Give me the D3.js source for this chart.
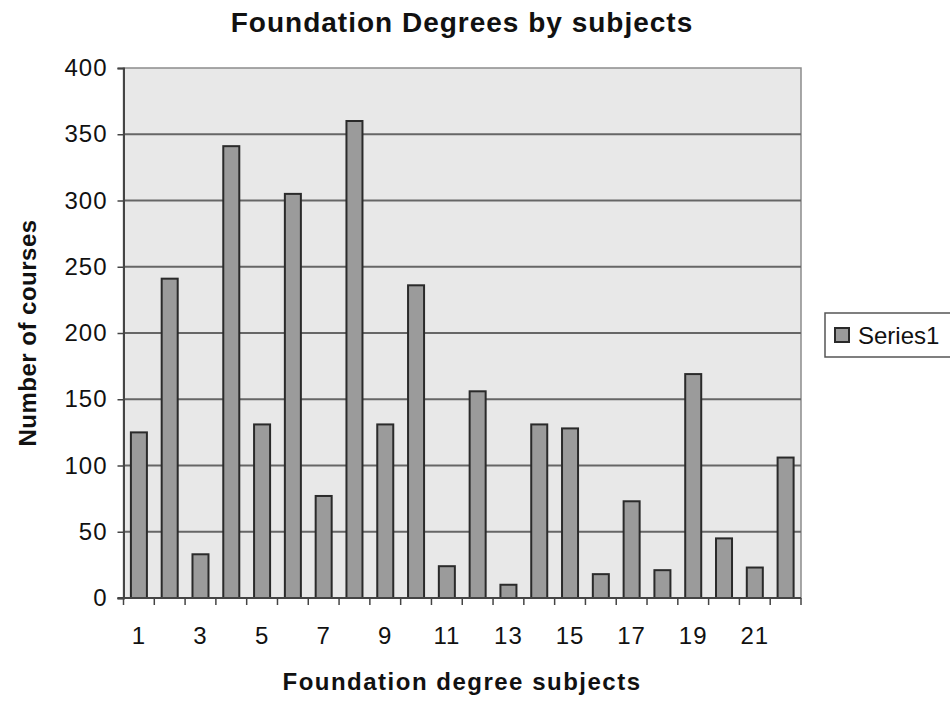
<!DOCTYPE html>
<html>
<head>
<meta charset="utf-8">
<script src="https://cdn.jsdelivr.net/npm/d3@7"></script>
<style>
  body { margin: 0; background: #fff; }
  text { font-family: "Liberation Sans", Arial, sans-serif; fill: #111; }
</style>
</head>
<body>
<div id="chart-area"></div>
<script>
// DATA
const subjects = d3.range(1, 23)
const courses = [125, 241, 33, 341, 131, 305, 77, 360, 131, 236, 24, 156,
                 10, 131, 128, 18, 73, 21, 169, 45, 23, 106]
const yTicks = [0, 50, 100, 150, 200, 250, 300, 350, 400]
const seriesName = "Series1"

const W = 950, H = 702
const plotL = 123.5, plotR = 801, plotT = 68, plotB = 598

const svg = d3.select("#chart-area").append("svg").attr("width", W).attr("height", H)

// X-Axis => Band Scale
const x = d3.scaleBand().domain(subjects).range([plotL, plotR])
            .paddingInner(0.48).paddingOuter(0.24)
const xEdge = d3.scaleLinear().domain([0, subjects.length]).range([plotL, plotR])

// Y-Axis => Linear Scale
const y = d3.scaleLinear().domain([0, 400]).range([plotB, plotT])

// plot background
svg.append("rect")
   .attr("x", plotL).attr("y", plotT)
   .attr("width", plotR - plotL).attr("height", plotB - plotT)
   .attr("fill", "#e8e8e8").attr("stroke", "#8c8c8c").attr("stroke-width", 1.5)

// gridlines
svg.selectAll(".grid").data(yTicks.filter(d => d > 0 && d < 400)).enter()
   .append("line")
   .attr("x1", plotL).attr("x2", plotR)
   .attr("y1", d => y(d)).attr("y2", d => y(d))
   .attr("stroke", "#666").attr("stroke-width", 2)

// bars
svg.selectAll(".bar").data(courses).enter()
   .append("rect")
   .attr("x", (d, i) => x(subjects[i]))
   .attr("y", d => y(d))
   .attr("width", x.bandwidth())
   .attr("height", d => y(0) - y(d))
   .attr("fill", "#9b9b9b").attr("stroke", "#2a2a2a").attr("stroke-width", 2)

// y axis
const yAxis = d3.axisLeft(y).tickValues(yTicks).tickSize(6).tickPadding(10)
const gy = svg.append("g").attr("transform", `translate(${plotL},0)`).call(yAxis)
gy.select(".domain").attr("stroke", "#444").attr("stroke-width", 2)
gy.selectAll(".tick line").attr("stroke", "#444").attr("stroke-width", 1.5)
gy.selectAll(".tick text").style("font-size", "24px").style("letter-spacing", "1px")
  .attr("fill", "#111")

// x axis: ticks at category edges, labels on odd categories
const gx = svg.append("g").attr("transform", `translate(0,${plotB})`)
gx.append("line").attr("x1", plotL - 6).attr("x2", plotR)
  .attr("stroke", "#444").attr("stroke-width", 2)
gx.selectAll(".xtick").data(d3.range(0, subjects.length + 1)).enter()
  .append("line")
  .attr("x1", d => xEdge(d)).attr("x2", d => xEdge(d))
  .attr("y1", 0).attr("y2", 7)
  .attr("stroke", "#444").attr("stroke-width", 1.5)
gx.selectAll(".xlab").data(subjects.filter(d => d % 2 === 1)).enter()
  .append("text")
  .attr("x", d => x(d) + x.bandwidth() / 2)
  .attr("y", 46)
  .attr("text-anchor", "middle")
  .style("font-size", "24px").style("letter-spacing", "1px")
  .text(d => d)

// titles
svg.append("text").attr("x", 462).attr("y", 32).attr("text-anchor", "middle")
   .style("font-size", "28px").style("font-weight", "bold").style("letter-spacing", "1px")
   .text("Foundation Degrees by subjects")
svg.append("text").attr("x", 462).attr("y", 690).attr("text-anchor", "middle")
   .style("font-size", "24px").style("font-weight", "bold").style("letter-spacing", "1.5px")
   .text("Foundation degree subjects")
svg.append("text")
   .attr("transform", "translate(36,333) rotate(-90)")
   .attr("text-anchor", "middle")
   .style("font-size", "24px").style("font-weight", "bold").style("letter-spacing", "0.5px")
   .text("Number of courses")

// legend
const lg = svg.append("g").attr("transform", "translate(825,313)")
lg.append("rect").attr("width", 140).attr("height", 44)
  .attr("fill", "#fff").attr("stroke", "#555").attr("stroke-width", 1.5)
lg.append("rect").attr("x", 10).attr("y", 15).attr("width", 14).attr("height", 14)
  .attr("fill", "#9b9b9b").attr("stroke", "#2a2a2a").attr("stroke-width", 2)
lg.append("text").attr("x", 33).attr("y", 31).style("font-size", "24px").text(seriesName)
</script>
</body>
</html>
